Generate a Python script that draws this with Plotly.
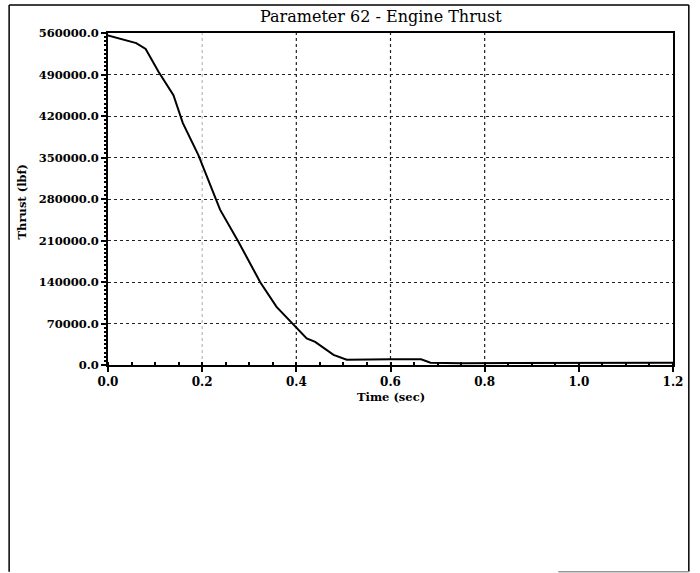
import plotly.graph_objects as go

# ---- data ----
time_s = [0.0, 0.06, 0.08, 0.107, 0.139, 0.159, 0.192, 0.227, 0.238, 0.277, 0.323,
          0.358, 0.399, 0.422, 0.44, 0.479, 0.507, 0.55, 0.60, 0.665, 0.685, 0.75,
          0.9, 1.05, 1.2]
thrust_lbf = [556000, 543000, 533000, 495000, 455000, 408000, 354000, 284000, 262000,
              208000, 140000, 98000, 65000, 45000, 39000, 17000, 9000, 9500, 9500,
              9500, 4000, 3000, 3000, 3500, 4000]

x_ticks = [0.0, 0.2, 0.4, 0.6, 0.8, 1.0, 1.2]
x_tick_text = ["0.0", "0.2", "0.4", "0.6", "0.8", "1.0", "1.2"]
y_ticks = [0, 70000, 140000, 210000, 280000, 350000, 420000, 490000, 560000]
y_tick_text = ["0.0", "70000.0", "140000.0", "210000.0", "280000.0", "350000.0",
               "420000.0", "490000.0", "560000.0"]
v_grid_dark = [0.4, 0.6, 0.8]
v_grid_faint = [0.2]

title_text = "Parameter 62 - Engine Thrust"
x_title = "Time (sec)"
y_title = "Thrust (lbf)"

FONT = "DejaVu Serif"

fig = go.Figure()
fig.add_trace(go.Scatter(x=time_s, y=thrust_lbf, mode="lines",
                         line=dict(color="black", width=2), showlegend=False,
                         hoverinfo="skip"))

shapes = []
for gx in v_grid_dark:
    shapes.append(dict(type="line", xref="x", yref="paper", x0=gx, x1=gx, y0=0, y1=1,
                       line=dict(color="#222", width=1.2, dash="dot"), layer="below"))
for gx in v_grid_faint:
    shapes.append(dict(type="line", xref="x", yref="paper", x0=gx, x1=gx, y0=0, y1=1,
                       line=dict(color="#aaa", width=1, dash="dot"), layer="below"))

# outer frame of the scanned page (paper coords extend beyond plot area)
L, R, T, B = -0.175, 1.028, 1.084, -0.623
frame = dict(color="black", width=1.5)
shapes += [
    dict(type="line", xref="paper", yref="paper", x0=L, x1=R, y0=T, y1=T, line=frame),
    dict(type="line", xref="paper", yref="paper", x0=L, x1=L, y0=B, y1=T, line=frame),
    dict(type="line", xref="paper", yref="paper", x0=R, x1=R, y0=B, y1=T, line=frame),
    dict(type="line", xref="paper", yref="paper", x0=0.797, x1=R, y0=B, y1=B,
         line=dict(color="#999", width=1.5)),
]

annotations = [
    dict(text=title_text, xref="paper", yref="paper", x=0.483, y=1.05,
         showarrow=False, font=dict(family=FONT, size=16, color="black"),
         xanchor="center", yanchor="middle"),
    dict(text=x_title, xref="paper", yref="paper", x=0.5, y=-0.096,
         showarrow=False, font=dict(family=FONT, size=11.5, color="black", weight="bold"),
         xanchor="center", yanchor="middle"),
    dict(text=y_title, xref="paper", yref="paper", x=-0.152, y=0.49, textangle=-90,
         showarrow=False, font=dict(family=FONT, size=11.5, color="black", weight="bold"),
         xanchor="center", yanchor="middle"),
]

fig.update_layout(
    width=700, height=573,
    margin=dict(l=108, r=27, t=33, b=208),
    paper_bgcolor="white", plot_bgcolor="white",
    shapes=shapes, annotations=annotations,
    xaxis=dict(range=[0, 1.2], tickvals=x_ticks, ticktext=x_tick_text,
               showgrid=False, zeroline=False, showline=True, linecolor="black",
               linewidth=2, mirror=True, ticks="outside", ticklen=5, tickwidth=1.5,
               tickcolor="black",
               tickfont=dict(family=FONT, size=12, color="black", weight="bold"),
               minor=dict(dtick=0.05, ticks="inside", ticklen=3, tickcolor="black",
                          showgrid=False)),
    yaxis=dict(range=[0, 560000], tickvals=y_ticks, ticktext=y_tick_text,
               showgrid=True, gridcolor="#222", griddash="dot", gridwidth=1,
               zeroline=False, showline=True, linecolor="black", linewidth=2,
               mirror=True, ticks="outside", ticklen=5, tickwidth=1.5,
               tickcolor="black",
               tickfont=dict(family=FONT, size=11.5, color="black", weight="bold"),
               minor=dict(dtick=7000, ticks="outside", ticklen=2, tickcolor="black",
                          showgrid=False)),
)

fig.write_html("out.html", config={"displayModeBar": False},
               post_script="document.body.style.margin='0px';document.body.style.overflow='hidden';")
